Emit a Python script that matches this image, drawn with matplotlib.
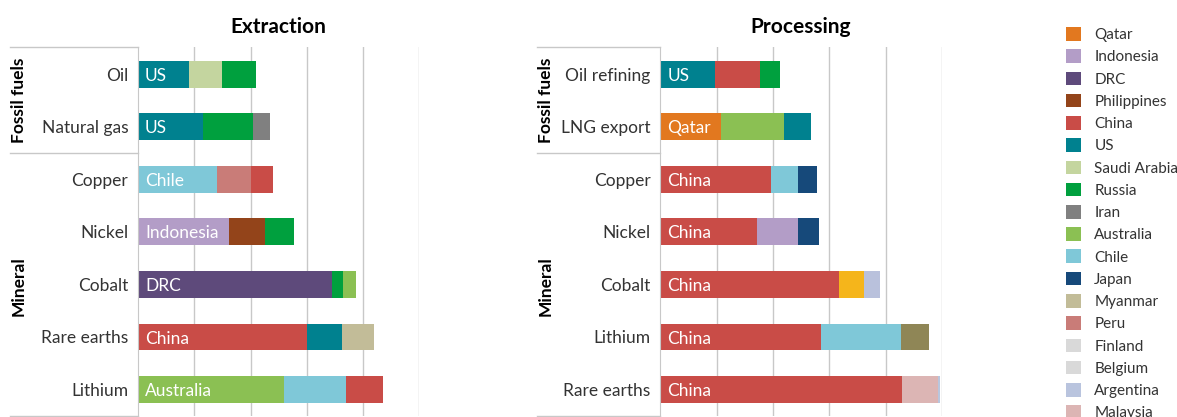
import matplotlib
matplotlib.use("Agg")
import matplotlib.pyplot as plt
from matplotlib.lines import Line2D
from matplotlib.patches import Patch

plt.rcParams['font.family'] = ['Lato', 'DejaVu Sans']

# Extraction: top three producers and shares (%)
ext_items = ['Oil', 'Natural gas', 'Copper', 'Nickel', 'Cobalt', 'Rare earths', 'Lithium']
ext_countries = [['US', 'Saudi Arabia', 'Russia'],
                 ['US', 'Russia', 'Iran'],
                 ['Chile', 'Peru', 'China'],
                 ['Indonesia', 'Philippines', 'Russia'],
                 ['DRC', 'Russia', 'Australia'],
                 ['China', 'US', 'Myanmar'],
                 ['Australia', 'Chile', 'China']]
ext_shares = [[18, 12, 12],
              [23, 18, 6],
              [28, 12, 8],
              [32.5, 12.5, 10.5],
              [69, 4, 4.5],
              [60, 12.5, 11.5],
              [52, 22, 13]]

# Processing: top three and shares (%)
proc_items = ['Oil refining', 'LNG export', 'Copper', 'Nickel', 'Cobalt', 'Lithium', 'Rare earths']
proc_countries = [['US', 'China', 'Russia'],
                  ['Qatar', 'Australia', 'US'],
                  ['China', 'Chile', 'Japan'],
                  ['China', 'Indonesia', 'Japan'],
                  ['China', 'Finland', 'Belgium'],
                  ['China', 'Chile', 'Argentina'],
                  ['China', 'Malaysia', 'Estonia']]
proc_shares = [[19.5, 16, 7],
               [21.5, 22.5, 9.5],
               [39.5, 9.5, 6.5],
               [34.5, 14.5, 7.5],
               [63.5, 9, 5.5],
               [57, 28.5, 10],
               [86, 12.5, 1]]

groups = ['Fossil fuels', 'Mineral']

legend_names = ['Qatar', 'Indonesia', 'DRC', 'Philippines', 'China', 'US',
                'Saudi Arabia', 'Russia', 'Iran', 'Australia', 'Chile', 'Japan',
                'Myanmar', 'Peru', 'Finland', 'Belgium', 'Argentina', 'Malaysia']

bar_colors = {
    'US': '#00818f', 'Saudi Arabia': '#c4d59f', 'Russia': '#00a03e',
    'Iran': '#808080', 'Chile': '#7fc8d8', 'Peru': '#c97c78',
    'China': '#c94c47', 'Indonesia': '#b39dc7', 'Philippines': '#93441a',
    'DRC': '#5e4a7b', 'Australia': '#8bc053', 'Myanmar': '#c2bc98',
    'Qatar': '#e2781f', 'Japan': '#16497a', 'Finland': '#f5b51b',
    'Belgium': '#b9c1dc', 'Argentina': '#8f8656', 'Malaysia': '#dcb5b4',
    'Estonia': '#b9c6de',
}
legend_colors = dict(bar_colors)
legend_colors.update({'Finland': '#d9d9d9', 'Belgium': '#d9d9d9', 'Argentina': '#b9c4de'})

W, H = 1177, 417
fig = plt.figure(figsize=(W / 100, H / 100), dpi=100)

grid_c = '#c8c8c8'
text_c = '#333333'


def draw_panel(left_px, items, countries, shares, title):
    ax = fig.add_axes([left_px / W, 1 - 416 / H, 281.5 / W, (416 - 47) / H])
    for i, (names, vals) in enumerate(zip(countries, shares)):
        start = 0
        for j, (n, v) in enumerate(zip(names, vals)):
            ax.barh(i, v, left=start, height=0.51, color=bar_colors[n], linewidth=0)
            if j == 0:
                ax.text(2.5, i + 0.03, n, color='white', va='center', ha='left',
                        fontsize=12.5)
            start += v
    ax.set_xlim(0, 100)
    ax.set_ylim(6.505, -0.52)
    ax.set_xticks([20, 40, 60, 80, 100])
    ax.xaxis.grid(True, color=grid_c, linewidth=1)
    ax.set_axisbelow(True)
    ax.tick_params(axis='x', length=0, labelbottom=False)
    ax.set_yticks(range(len(items)))
    ax.set_yticklabels(items, fontsize=12.5, color=text_c)
    ax.tick_params(axis='y', length=0, pad=7)
    for s in ['top', 'right', 'bottom']:
        ax.spines[s].set_visible(False)
    ax.spines['left'].set_color(grid_c)
    ax.set_title(title, fontsize=15, fontweight='bold', pad=10)
    return ax


draw_panel(138, ext_items, ext_countries, ext_shares, 'Extraction')
draw_panel(660.3, proc_items, proc_countries, proc_shares, 'Processing')

# group brackets and labels
for x0, x1 in [(10, 138), (537, 660.3)]:
    for y in [47, 152.7, 416]:
        fig.add_artist(Line2D([x0 / W, x1 / W], [1 - y / H, 1 - y / H],
                              color=grid_c, linewidth=1))
    xc = (x0 + 9) / W
    fig.text(xc, 1 - 100 / H, groups[0], rotation=90, ha='center', va='center',
             fontsize=12.5, fontweight='bold')
    fig.text(xc, 1 - 286 / H, groups[1], rotation=90, ha='center', va='center',
             fontsize=12.5, fontweight='bold')

handles = [Patch(facecolor=legend_colors[n], edgecolor='none') for n in legend_names]
fig.legend(handles, legend_names, loc='upper left',
           bbox_to_anchor=(1066 / W, 1 - 27 / H), frameon=False,
           fontsize=11, handlelength=1.0, handleheight=1.0, handletextpad=0.85,
           labelspacing=0.47, borderaxespad=0, borderpad=0,
           labelcolor=text_c)

fig.savefig('out.png', dpi=100)
